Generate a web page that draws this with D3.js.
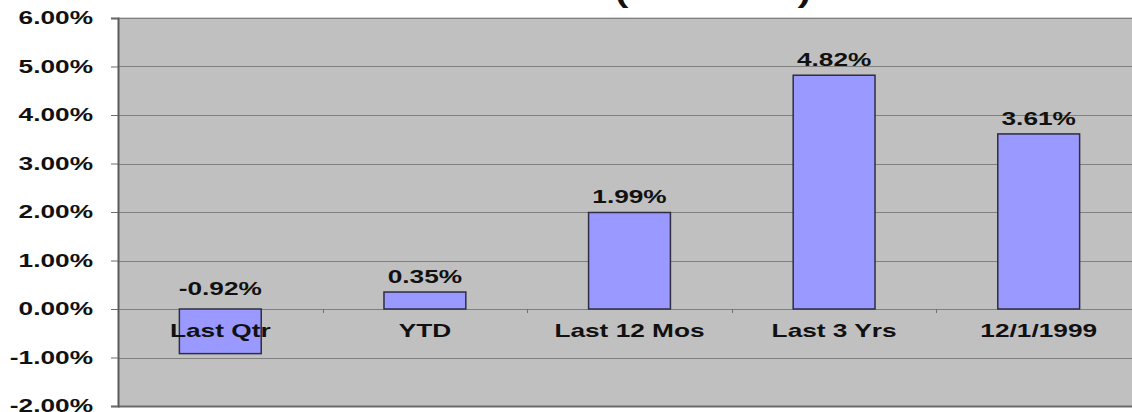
<!DOCTYPE html>
<html>
<head>
<meta charset="utf-8">
<script src="https://cdn.jsdelivr.net/npm/d3@7"></script>
<style>
  body { margin: 0; background: #fff; }
  text { font-family: "Liberation Sans", Arial, sans-serif; font-weight: bold; fill: #111; }
</style>
</head>
<body>
<div id="chart"></div>
<script>
// 数据
const categories = ["Last Qtr", "YTD", "Last 12 Mos", "Last 3 Yrs", "12/1/1999"];
const returns = [-0.0092, 0.0035, 0.0199, 0.0482, 0.0361];
const yTicks = [-0.02, -0.01, 0, 0.01, 0.02, 0.03, 0.04, 0.05, 0.06];

const width = 1132, height = 412;
const stretch = 1.5; // 文字被横向拉伸
const fontSize = 17.5;
const plot = { left: 118, right: 1141, top: 18, bottom: 406 };

const svg = d3.select("#chart")
    .append("svg")
    .attr("width", width)
    .attr("height", height)
    .style("display", "block");

const x = d3.scaleBand()
    .domain(categories)
    .range([plot.left, plot.right])
    .paddingInner(0.6)
    .paddingOuter(0.3);

const y = d3.scaleLinear()
    .domain([-0.02, 0.06])
    .range([plot.bottom, plot.top]);

// 用普通连字符做负号
const fmt = d3.formatLocale({
    decimal: ".", thousands: ",", grouping: [3], currency: ["$", ""], minus: "-"
}).format(".2%");

// 拉伸文字
function wideText(g, tx, ty, str, size, anchor) {
    return g.append("g")
        .attr("transform", `translate(${tx},${ty}) scale(${stretch},1)`)
        .append("text")
        .attr("text-anchor", anchor)
        .style("font-size", size + "px")
        .text(str);
}

// 标题残留（被裁掉）
wideText(svg, 622, 3, "(", 26, "middle");
wideText(svg, 804, 3, ")", 26, "middle");

// 绘图区背景
svg.append("rect")
    .attr("x", plot.left)
    .attr("y", plot.top)
    .attr("width", width - plot.left + 10)
    .attr("height", plot.bottom - plot.top)
    .attr("fill", "#c0c0c0");

svg.append("line")
    .attr("x1", plot.left).attr("x2", width)
    .attr("y1", plot.top - 0.5).attr("y2", plot.top - 0.5)
    .attr("stroke", "#d4d4d4");

// 网格线
svg.append("g")
    .selectAll("line")
    .data(yTicks)
    .join("line")
    .attr("x1", plot.left)
    .attr("x2", width)
    .attr("y1", d => Math.round(y(d)) + 0.5)
    .attr("y2", d => Math.round(y(d)) + 0.5)
    .attr("stroke", d => d === -0.02 ? "#6a6a6a" : "#808080")
    .attr("stroke-width", d => d === -0.02 ? 2 : 1);

// y轴
const yAxis = d3.axisLeft(y)
    .tickValues(yTicks)
    .tickSize(7)
    .tickFormat("");

const yg = svg.append("g")
    .attr("transform", `translate(${plot.left},0)`)
    .call(yAxis);
yg.select(".domain").attr("stroke", "#5a5a5a").attr("stroke-width", 2);
yg.selectAll(".tick line").attr("stroke", "#6a6a6a");

yTicks.forEach(t => {
    wideText(svg, 93, y(t) + 6, fmt(t), fontSize, "end");
});

// 分类刻度
const bounds = categories.map(c => x(c) - x.step() * x.paddingInner() / 2).slice(1);
svg.append("g")
    .selectAll("line")
    .data(bounds)
    .join("line")
    .attr("x1", d => Math.round(d) + 0.5)
    .attr("x2", d => Math.round(d) + 0.5)
    .attr("y1", y(0))
    .attr("y2", y(0) + 4)
    .attr("stroke", "#707070");

// 柱子
svg.append("g")
    .selectAll("rect")
    .data(returns)
    .join("rect")
    .attr("x", (d, i) => x(categories[i]))
    .attr("width", x.bandwidth())
    .attr("y", d => y(Math.max(0, d)))
    .attr("height", d => Math.abs(y(d) - y(0)))
    .attr("fill", "#9999ff")
    .attr("stroke", "#2e2e40")
    .attr("stroke-width", 1.5);

// 数值标签
returns.forEach((v, i) => {
    const cx = x(categories[i]) + x.bandwidth() / 2;
    const ty = v >= 0 ? y(v) - 9 : y(0) - 14.5;
    wideText(svg, cx, ty, fmt(v), fontSize, "middle");
});

// 分类标签
categories.forEach(c => {
    wideText(svg, x(c) + x.bandwidth() / 2, 337, c, fontSize, "middle");
});
</script>
</body>
</html>
